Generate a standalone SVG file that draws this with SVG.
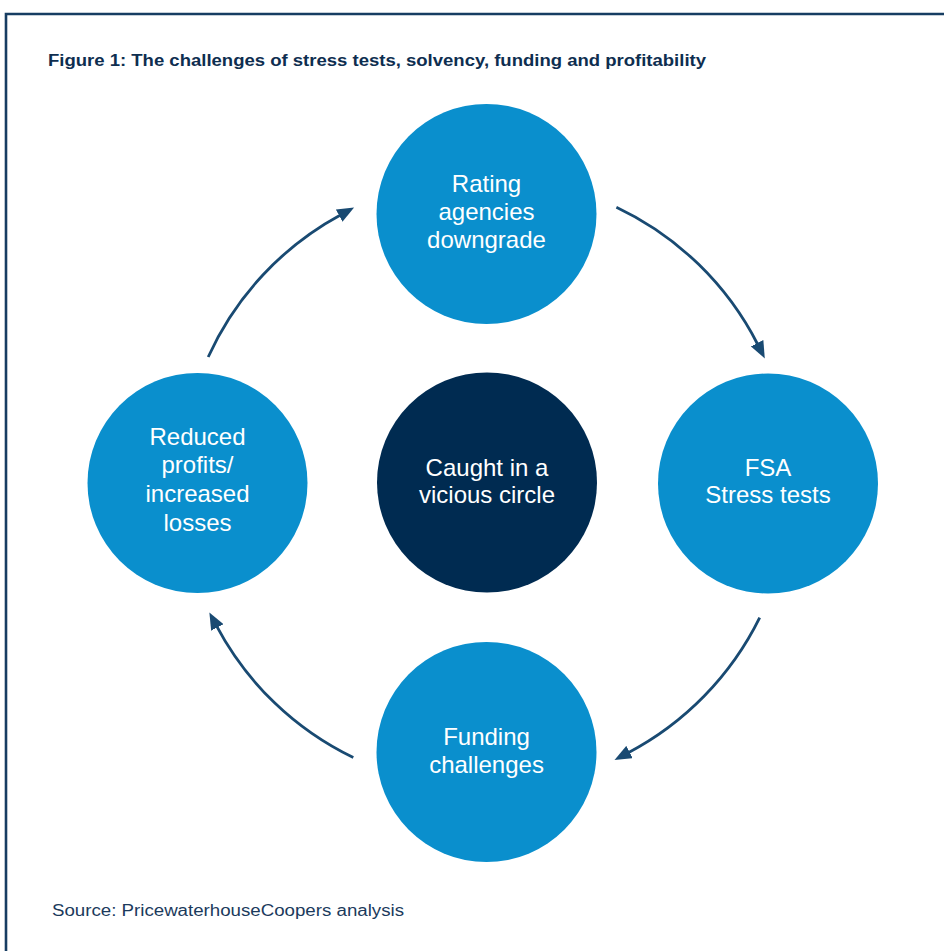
<svg xmlns="http://www.w3.org/2000/svg" width="944" height="951" viewBox="0 0 944 951">
<defs>
<style>
.frame{fill:none;stroke:#173d62;stroke-width:2.6}
.title{font-family:"Liberation Sans",Arial,sans-serif;font-weight:bold;font-size:16px;fill:#0e2e50}
.source{font-family:"Liberation Sans",Arial,sans-serif;font-size:16px;fill:#1b3a5c}
.node{fill:#0a8fcd}
.hub{fill:#002b51}
.label{font-family:"Liberation Sans",Arial,sans-serif;font-size:24px;fill:#ffffff;text-anchor:middle}
.arrow{fill:none;stroke:#194a72;stroke-width:2.8;marker-end:url(#head)}
</style>
<marker id="head" markerUnits="userSpaceOnUse" markerWidth="18" markerHeight="14" viewBox="0 0 18 14" refX="2" refY="7" orient="auto">
<path d="M0,0 L17,7 L0,14 z" fill="#194a72"/>
</marker>
</defs>
<rect width="944" height="951" fill="#ffffff"/>
<path class="frame" d="M6,951 V14 H944"/>
<text class="title" x="48" y="66" textLength="658" lengthAdjust="spacingAndGlyphs">Figure 1: The challenges of stress tests, solvency, funding and profitability</text>

<g id="connectors">
<path class="arrow" d="M616.4,207.3 A305,305 0 0 1 758.0,345.0"/>
<path class="arrow" d="M759.7,617.7 A305,305 0 0 1 627.8,753.0"/>
<path class="arrow" d="M353.3,757.6 A305,305 0 0 1 216.4,625.7"/>
<path class="arrow" d="M208.2,357.0 A305,305 0 0 1 340.9,214.7"/>
</g>

<g id="node-rating">
<circle class="node" cx="486.5" cy="214" r="110"/>
<text class="label" x="486.5" y="192">Rating</text>
<text class="label" x="486.5" y="220">agencies</text>
<text class="label" x="486.5" y="248">downgrade</text>
</g>

<g id="node-fsa">
<circle class="node" cx="768" cy="483.5" r="110"/>
<text class="label" x="768" y="476">FSA</text>
<text class="label" x="768" y="503">Stress tests</text>
</g>

<g id="node-funding">
<circle class="node" cx="486.5" cy="752" r="110"/>
<text class="label" x="486.5" y="745">Funding</text>
<text class="label" x="486.5" y="773">challenges</text>
</g>

<g id="node-profits">
<circle class="node" cx="197.5" cy="483" r="110"/>
<text class="label" x="197.5" y="445">Reduced</text>
<text class="label" x="197.5" y="473">profits/</text>
<text class="label" x="197.5" y="502">increased</text>
<text class="label" x="197.5" y="531">losses</text>
</g>

<g id="node-center">
<circle class="hub" cx="487" cy="482.5" r="110"/>
<text class="label" x="487" y="476">Caught in a</text>
<text class="label" x="487" y="503">vicious circle</text>
</g>

<text class="source" x="52" y="916" textLength="352" lengthAdjust="spacingAndGlyphs">Source: PricewaterhouseCoopers analysis</text>
</svg>
